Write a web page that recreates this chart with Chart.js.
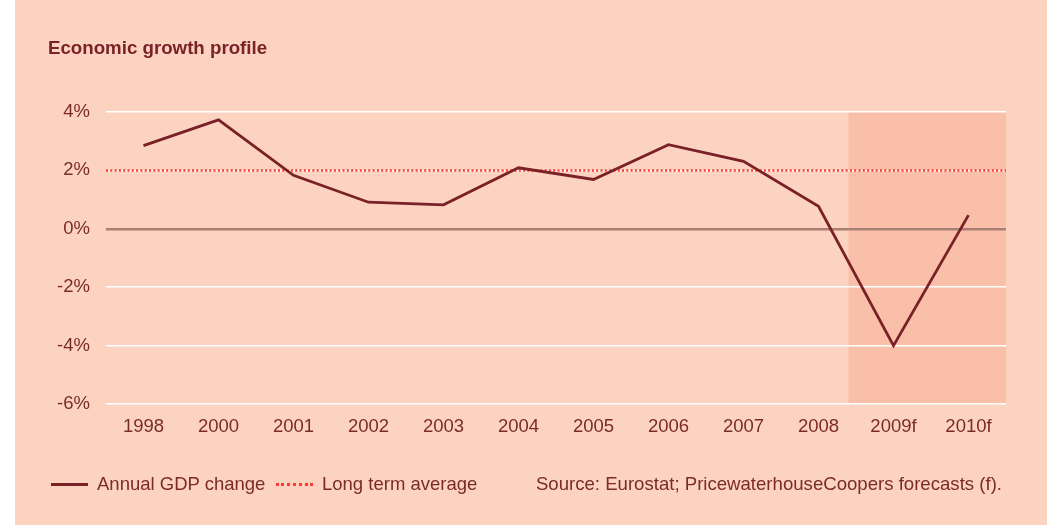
<!DOCTYPE html>
<html>
<head>
<meta charset="utf-8">
<script src="https://cdn.jsdelivr.net/npm/chart.js@4/dist/chart.umd.min.js"></script>
<style>
  html, body { margin: 0; padding: 0; background: #fff; }
  #wrap {
    position: absolute; left: 15px; top: 0; width: 1032px; height: 525px;
    background: #fcd3c1; font-family: "Liberation Sans", Arial, sans-serif; color: #7b2a2a;
  }
  #chartCanvas { position: absolute; left: -15px; top: 0; }
  #title { position: absolute; left: 33px; top: 37px; font-size: 18.7px; font-weight: bold; color: #7a2228; }
  .legend { position: absolute; top: 473px; font-size: 18.5px; line-height: 22px; white-space: nowrap; }
  .swatch { display: inline-block; width: 37px; vertical-align: middle; margin-right: 9px; position: relative; top: -1px; }
  #source { position: absolute; right: 45px; top: 473px; font-size: 18.6px; line-height: 22px; }
</style>
</head>
<body>
<div id="wrap">
  <canvas id="chartCanvas" width="1047" height="525"></canvas>
  <div id="title">Economic growth profile</div>
  <div class="legend" style="left:36px"><span class="swatch" style="border-top:3px solid #7a2027"></span>Annual GDP change</div>
  <div class="legend" style="left:261px"><span class="swatch" style="border-top:3px dotted #ff3a2c"></span>Long term average</div>
  <div id="source">Source: Eurostat; PricewaterhouseCoopers forecasts (f).</div>
</div>
<script>
const years = ["1998", "2000", "2001", "2002", "2003", "2004", "2005", "2006", "2007", "2008", "2009f", "2010f"];
const gdpChange = [2.85, 3.73, 1.83, 0.91, 0.82, 2.09, 1.69, 2.88, 2.31, 0.77, -4.0, 0.47];
const longTermAverage = 2;
const forecastStart = 9.4; // category index where the shaded forecast band begins
const yTicks = [-6, -4, -2, 0, 2, 4];

const tickColor = "#7b2a2a";
const tickFont = { family: "Liberation Sans", size: 18.5 };

// shaded forecast band, drawn under the grid
const forecastBand = {
  id: "forecastBand",
  beforeDraw(chart) {
    const { ctx, chartArea, scales } = chart;
    const x = scales.x;
    const step = x.getPixelForValue(1) - x.getPixelForValue(0);
    const left = x.getPixelForValue(Math.floor(forecastStart)) + (forecastStart % 1) * step;
    ctx.save();
    ctx.fillStyle = "#f9bfa8";
    ctx.fillRect(left, chartArea.top, chartArea.right - left, chartArea.bottom - chartArea.top);
    ctx.restore();
  }
};

// dotted long term average across the whole plot
const averageLine = {
  id: "averageLine",
  beforeDatasetsDraw(chart) {
    const { ctx, chartArea, scales } = chart;
    const y = Math.round(scales.y.getPixelForValue(longTermAverage)) + 0.5;
    ctx.save();
    ctx.strokeStyle = "#ff3a2c";
    ctx.lineWidth = 2.5;
    ctx.setLineDash([2, 2.3]);
    ctx.beginPath();
    ctx.moveTo(chartArea.left, y);
    ctx.lineTo(chartArea.right, y);
    ctx.stroke();
    ctx.restore();
  }
};

new Chart(document.getElementById("chartCanvas"), {
  type: "line",
  data: {
    labels: years,
    datasets: [{
      label: "Annual GDP change",
      data: gdpChange,
      borderColor: "#7a2027",
      borderWidth: 2.8,
      pointRadius: 0,
      tension: 0
    }]
  },
  options: {
    responsive: false,
    animation: false,
    layout: { padding: { left: 0, right: 41, top: 112, bottom: 81 } },
    plugins: { legend: { display: false }, tooltip: { enabled: false } },
    scales: {
      x: {
        offset: true,
        grid: { display: false, drawTicks: false },
        border: { display: false },
        ticks: { color: tickColor, padding: 12, font: tickFont },
        afterFit(scale) { scale.height = 40; }
      },
      y: {
        min: -6,
        max: 4,
        afterBuildTicks(scale) { scale.ticks = yTicks.map(v => ({ value: v })); },
        grid: {
          drawTicks: false,
          color: c => c.tick && c.tick.value === 0 ? "#a98073" : "#ffffff",
          lineWidth: c => c.tick && c.tick.value === 0 ? 2.5 : 1.5
        },
        border: { display: false },
        ticks: {
          color: tickColor,
          padding: 16,
          font: tickFont,
          callback: v => v + "%"
        },
        afterFit(scale) { scale.width = 106; }
      }
    }
  },
  plugins: [forecastBand, averageLine]
});
</script>
</body>
</html>
